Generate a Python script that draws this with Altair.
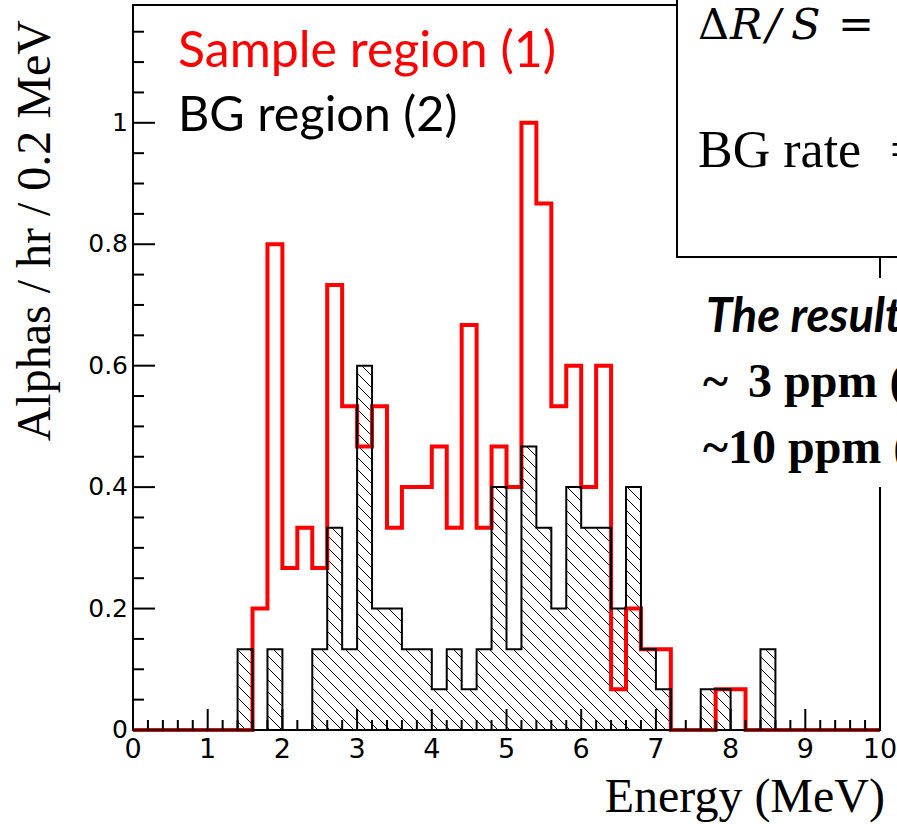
import altair as alt
import pandas as pd

# ---------------- data ----------------
bin_edges = [round(0.2 * i, 1) for i in range(51)]          # 0.2 MeV bins, 0..10 MeV
sample_rate = [0, 0, 0, 0, 0, 0, 0, 0, 0.2, 0.8,
               0.267, 0.333, 0.267, 0.733, 0.533, 0.467, 0.533, 0.333, 0.4, 0.4,
               0.467, 0.333, 0.667, 0.333, 0.467, 0.4, 1.0, 0.867, 0.533, 0.6,
               0.4, 0.6, 0.067, 0.2, 0.133, 0.133, 0, 0, 0, 0.067,
               0.067, 0, 0, 0, 0, 0, 0, 0, 0, 0]
bg_rate = [0, 0, 0, 0, 0, 0, 0, 0.133, 0, 0.133,
           0, 0, 0.133, 0.333, 0.133, 0.6, 0.2, 0.2, 0.133, 0.133,
           0.067, 0.133, 0.067, 0.133, 0.4, 0.133, 0.467, 0.333, 0.2, 0.4,
           0.333, 0.333, 0.2, 0.4, 0.133, 0.067, 0, 0, 0.067, 0.067,
           0, 0, 0.133, 0, 0, 0, 0, 0, 0, 0]
x_tick_values = list(range(11))
x_tick_labels = [str(v) for v in x_tick_values]
y_tick_values = [0, 0.2, 0.4, 0.6, 0.8, 1.0]
y_tick_labels = ["0", "0.2", "0.4", "0.6", "0.8", "1"]
x_title = "Energy (MeV)"
y_title = "Alphas / hr / 0.2 MeV"
legend_texts = ["Sample region (1)", "BG region (2)"]
box_texts = ["\u0394", "R", "/", "S", "=", "BG rate", "="]
result_texts = ["The result", "~", "3 ppm (", "~10 ppm ("]

# ---------------- geometry ----------------
PW, PH = 747, 725
XMAX, YMAX = 10.0, 1.194
OX, OY = 133, 5
xs = alt.Scale(domain=[0, XMAX], nice=False, zero=False)
ys = alt.Scale(domain=[0, YMAX], nice=False, zero=False)


def step_df(vals):
    return pd.DataFrame({"E": bin_edges, "rate": vals + [vals[-1]]})


# hatch segments for the BG histogram (45 degree "\" lines clipped to bins)
kx, ky = PW / XMAX, PH / YMAX
HATCH = 12.0
segs = []
for i, h in enumerate(bg_rate):
    if h <= 0:
        continue
    a, b = bin_edges[i] * kx, bin_edges[i + 1] * kx
    T, B = (YMAX - h) * ky, YMAX * ky
    for k in range(-90, 90):
        c = k * HATCH
        lo, hi = max(a, T - c), min(b, B - c)
        if hi - lo > 0.3:
            segs.append({"x1": lo / kx, "y1": YMAX - (lo + c) / ky,
                         "x2": hi / kx, "y2": YMAX - (hi + c) / ky})
hatch_df = pd.DataFrame(segs)

x_major = x_tick_values
x_minor = [round(0.2 * i, 1) for i in range(51) if i % 5]
y_major = y_tick_values
y_minor = [round(0.05 * i, 2) for i in range(24) if i % 4]

# ---------------- layers ----------------
hatch = alt.Chart(hatch_df).mark_rule(color="black", strokeWidth=1).encode(
    x=alt.X("x1:Q", scale=xs, axis=None), y=alt.Y("y1:Q", scale=ys, axis=None),
    x2="x2:Q", y2="y2:Q")

red = alt.Chart(step_df(sample_rate)).mark_line(
    interpolate="step-after", color="#ff0000", strokeWidth=4, strokeJoin="miter"
).encode(x=alt.X("E:Q", scale=xs, axis=None), y=alt.Y("rate:Q", scale=ys, axis=None))

black = alt.Chart(step_df(bg_rate)).mark_line(
    interpolate="step-after", color="black", strokeWidth=2, strokeJoin="miter"
).encode(x=alt.X("E:Q", scale=xs, axis=None), y=alt.Y("rate:Q", scale=ys, axis=None))


def xticks(vals, length):
    return alt.Chart(pd.DataFrame({"t": vals})).mark_rule(color="black", strokeWidth=2).encode(
        x=alt.X("t:Q", scale=xs, axis=None), y=alt.value(PH), y2=alt.value(PH - length))


def yticks(vals, length):
    return alt.Chart(pd.DataFrame({"t": vals})).mark_rule(color="black", strokeWidth=2).encode(
        y=alt.Y("t:Q", scale=ys, axis=None), x=alt.value(0), x2=alt.value(length))


x_labels = alt.Chart(pd.DataFrame({"v": x_tick_values, "s": x_tick_labels})).mark_text(
    align="center", baseline="alphabetic", font="DejaVu Sans", fontSize=27, color="black"
).encode(x=alt.X("v:Q", scale=xs, axis=None), y=alt.value(758 - OY), text="s:N")

y_labels = alt.Chart(pd.DataFrame({"v": y_tick_values, "s": y_tick_labels})).mark_text(
    align="right", baseline="middle", font="DejaVu Sans", fontSize=25, color="black"
).encode(y=alt.Y("v:Q", scale=ys, axis=None), x=alt.value(-5), text="s:N")

one = pd.DataFrame({"k": [0]})
frame = alt.Chart(one).mark_rect(fillOpacity=0, stroke="black", strokeWidth=2).encode(
    x=alt.value(0), x2=alt.value(PW), y=alt.value(0), y2=alt.value(PH))


def box(x1, y1, x2, y2, stroke=True):
    kw = dict(fill="white")
    if stroke:
        kw.update(stroke="black", strokeWidth=2)
    return alt.Chart(one).mark_rect(**kw).encode(
        x=alt.value(x1 - OX), x2=alt.value(x2 - OX), y=alt.value(y1 - OY), y2=alt.value(y2 - OY))


def label(text, x, y, size, font, color="black", weight="normal", style="normal",
          align="left", angle=0):
    kw = dict(align=align, baseline="alphabetic", font=font, fontSize=size,
              fontWeight=weight, fontStyle=style, color=color)
    if angle:
        kw["angle"] = angle
    return alt.Chart(pd.DataFrame({"t": [text]})).mark_text(**kw).encode(
        x=alt.value(x - OX), y=alt.value(y - OY), text="t:N")


layers = [
    hatch, red, black,
    xticks(x_minor, 10), xticks(x_major, 21),
    yticks(y_minor, 11), yticks(y_major, 22),
    frame,
    x_labels, y_labels,
    label(x_title, 885, 812, 48, "Liberation Serif", align="right"),
    label(y_title, 50, 20, 48, "Liberation Serif", align="right", angle=270),
    label(legend_texts[0], 178, 67, 50, "Lato", color="#ff0000"),
    label(legend_texts[1], 178, 131, 48.5, "Lato"),
    box(677, -20, 920, 257),
    label(box_texts[0], 698, 39, 43, "DejaVu Serif"),
    label(box_texts[1], 730, 39, 43, "DejaVu Serif", style="italic"),
    label(box_texts[2], 766, 39, 43, "DejaVu Serif", style="italic"),
    label(box_texts[3], 791, 39, 43, "DejaVu Serif", style="italic"),
    label(box_texts[4], 838, 39, 43, "DejaVu Serif"),
    label(box_texts[5], 698, 167, 52, "Liberation Serif"),
    label(box_texts[6], 890, 167, 52, "Liberation Serif"),
    box(690, 278, 920, 487, stroke=False),
    label(result_texts[0], 706, 332, 47, "Lato", weight="bold", style="italic"),
    label(result_texts[1], 703, 397, 48, "Liberation Serif", weight="bold"),
    label(result_texts[2], 748, 397, 48, "Liberation Serif", weight="bold"),
    label(result_texts[3], 703, 463, 48, "Liberation Serif", weight="bold"),
]

chart = alt.layer(*layers).properties(
    width=PW, height=PH,
    padding={"left": OX, "top": OY, "right": 897 - OX - PW, "bottom": 824 - OY - PH},
    autosize=alt.AutoSizeParams(type="none"),
    background="white",
).configure_view(strokeWidth=0)

chart.save("out.html", embed_options={"renderer": "svg", "actions": False})
